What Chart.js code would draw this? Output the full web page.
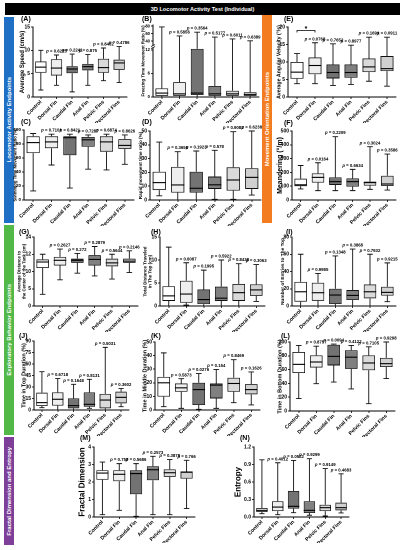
<!DOCTYPE html>
<html>
<head>
<meta charset="utf-8">
<script src="https://cdn.jsdelivr.net/npm/chart.js@4.4.1/dist/chart.umd.min.js"></script>
<style>
  body { margin: 0; background: #fff; }
  #page { position: relative; width: 407px; height: 550px; overflow: hidden; font-family: "Liberation Sans", Arial, sans-serif; }
  #page canvas { position: absolute; }
  .band { position: absolute; width: 10px; color: #fff; font-weight: bold; font-size: 6px; display: flex; align-items: center; justify-content: center; }
  .band span { writing-mode: vertical-rl; transform: rotate(180deg); white-space: nowrap; }
  .tag { position: absolute; font-weight: bold; font-size: 7px; color: #000; }
  #head { position: absolute; left: 5px; top: 3px; width: 395px; height: 12px; background: #000; color: #fff; font-weight: bold; font-size: 5.6px; line-height: 12px; text-align: center; }
</style>
</head>
<body>
<div id="page">
  <div id="head">3D Locomotor Activity Test (Individual)</div>
  <div class="band" style="left:4px;top:17px;height:206px;background:#1f6fc5"><span>Locomotor Activity Endpoints</span></div>
  <div class="band" style="left:262px;top:15px;height:208px;background:#f47c20"><span>Movement Orientation Endpoints</span></div>
  <div class="band" style="left:4px;top:225px;height:210px;background:#52b848"><span>Exploratory Behavior Endpoints</span></div>
  <div class="band" style="left:4px;top:437px;height:108px;background:#7e3f98"><span>Fractal Dimension and Entropy</span></div>
</div>
<script>
// groups on the x axis of every panel
const groups = ["Control", "Dorsal Fin", "Caudal Fin", "Anal Fin", "Pelvic Fins", "Pectoral Fins"];
const boxColors = ["#ffffff", "#eeeeee", "#737373", "#808080", "#dadada", "#d0d0d0"];

// each row: [min, q1, median, q3, max]
const speedA = [[1.5, 5.2, 6.4, 7.6, 10.0], [2.5, 4.6, 6.2, 8.1, 9.0], [1.1, 5.1, 6.0, 6.6, 9.2], [2.5, 5.7, 6.5, 7.1, 9.1], [3.5, 5.2, 6.3, 8.2, 10.5], [3.1, 5.8, 7.3, 8.0, 10.8]];
const speedP = [null, "0.6215", "0.2241", "0.875", "0.8432", "0.4786"];

const freezeB = [[0, 0.3, 1.0, 2.2, 78], [0, 0.3, 0.8, 3.8, 54], [0, 0.5, 1.0, 12.3, 64], [0, 0.3, 0.8, 2.8, 51], [0, 0.3, 0.8, 1.6, 46], [0, 0.3, 0.6, 1.2, 41]];
const freezeP = [null, "0.5856", "0.3564", "0.5177", "0.6011", "0.6389"];

const swimC = [[13, 67, 82, 91, 95], [50, 74, 83, 91, 94], [17, 64, 89, 91, 94], [44, 76, 86, 90, 93], [43, 69, 83, 91, 94], [51, 73, 78, 87, 93]];
const swimP = [null, "0.7101", "0.8421", "0.7287", "0.6874", "0.8626"];

const rapidD = [[3, 7.2, 12.6, 20.5, 42], [0, 5.3, 10.9, 24, 35], [0, 5.3, 8.5, 20.5, 35.5], [0.5, 8, 11, 17, 36], [0.5, 6.8, 14.5, 23.7, 49.5], [3.6, 8, 16.4, 23, 50]];
const rapidP = [null, "0.3656", "0.1923", "0.578", "0.9082", "0.6238"];

const angularE = [[3.8, 5.2, 7.1, 10.0, 12.4], [3.8, 6.5, 9.0, 11.3, 15.5], [3.3, 5.3, 7.0, 9.3, 15.2], [3.6, 5.5, 7.0, 9.3, 14.8], [4.5, 7.1, 8.6, 11.0, 17.1], [3.1, 7.4, 8.1, 11.7, 17.1]];
const angularP = [null, "0.0768", "0.7652", "0.8977", "0.1691", "0.0911"];

const meanderF = [[80, 100, 110, 155, 250], [68, 126, 164, 193, 270], [68, 109, 133, 164, 459], [68, 97, 133, 157, 222], [77, 104, 126, 133, 386], [72, 101, 116, 176, 333]];
const meanderP = [null, "0.0164", "0.2209", "0.6634", "0.3024", "0.3586"];

const centerG = [[3.4, 10.4, 11.1, 11.4, 12.0], [7.6, 10.7, 11.3, 11.7, 12.6], [9.5, 11.0, 11.3, 11.5, 12.1], [8.7, 10.7, 11.4, 11.9, 12.9], [7.8, 10.6, 11.0, 11.5, 12.0], [9.7, 11.0, 11.2, 11.5, 12.4]];
const centerP = [null, "0.2627", "0.272", "0.2879", "0.5644", "0.2146"];

const topDistH = [[0, 1.1, 2.2, 4.3, 12.8], [0.2, 0.7, 2.6, 5.5, 9.4], [0, 0.4, 1.4, 3.6, 7.8], [0, 1.1, 1.7, 4.2, 10.0], [0, 1.1, 2.9, 4.8, 9.2], [1.0, 2.2, 3.5, 4.7, 9.0]];
const topDistP = [null, "0.6087", "0.1995", "0.5922", "0.8438", "0.3063"];

const entriesI = [[0, 5, 16.5, 28, 60], [0, 6, 15.4, 27, 37.7], [0, 2.3, 12.7, 20, 58], [0, 7, 12.3, 18.5, 66], [0, 8.8, 16.5, 25, 60], [5, 12, 15.8, 22.3, 50]];
const entriesP = [null, "0.9985", "0.1348", "0.3868", "0.7932", "0.9215"];

const topJ = [[3, 5.2, 9.6, 22.6, 50], [0, 5.7, 14, 23, 41], [0, 2.2, 5.7, 15.2, 33.5], [2.2, 4.3, 7.4, 23, 40], [0, 2.2, 13, 21, 81.7], [4.3, 8.7, 16.5, 24, 28]];
const topP = [null, "0.6718", "0.1648", "0.8131", "0.5031", "0.3602"];

const middleK = [[2.4, 9.8, 20, 24.4, 42], [1.2, 13.4, 16.3, 19.5, 23], [0.5, 3.7, 15, 20, 26.8], [1.2, 8.5, 18.3, 19.5, 29.8], [5.4, 13.4, 19.5, 23.7, 37], [3.7, 11.5, 15, 19, 28]];
const middleP = [null, "0.5873", "0.0276", "0.154", "0.8469", "0.1626"];

const bottomL = [[18, 55, 67.6, 85.5, 95], [39.6, 63, 71, 80.7, 94], [42, 66, 79.2, 96, 97], [32, 61, 78, 88, 95], [10.6, 59, 69.6, 80.7, 93], [47, 63.8, 68.6, 77, 100]];
const bottomP = [null, "0.8757", "0.0094", "0.4122", "0.7105", "0.9298"];

const fractalM = [[0.13, 2.13, 2.51, 2.67, 3.14], [0.38, 2.04, 2.44, 2.67, 3.05], [0.04, 1.3, 2.48, 2.67, 3.05], [0.13, 2.1, 2.7, 2.9, 3.47], [0.13, 2.29, 2.53, 2.72, 3.28], [0.48, 2.19, 2.57, 2.57, 3.24]];
const fractalP = [null, "0.757", "0.5686", "0.2573", "0.3878", "0.766"];

const entropyN = [[0.057, 0.086, 0.114, 0.154, 0.98], [0.04, 0.1, 0.17, 0.27, 0.93], [0.074, 0.143, 0.183, 0.446, 0.97], [0.03, 0.069, 0.114, 0.27, 1.0], [0.017, 0.1, 0.16, 0.21, 0.83], [0.069, 0.114, 0.16, 0.246, 0.74]];
const entropyP = [null, "0.4012", "0.0522", "0.9299", "0.9149", "0.4683"];

// tick labels
const speedTicks = [0, 5, 10, 15];
const freezeTicks = [0, 3, 6, 9, 12, 30, 40, 50, 60, 70, 80];
const swimTicks = [0, 20, 40, 60, 80, 100];
const rapidTicks = [0, 10, 20, 30, 40, 50];
const angularTicks = [0, 5, 10, 15, 20];
const meanderTicks = [0, 100, 200, 300, 400, 500];
const centerTicks = [0, 5, 10, 12, 14];
const topDistTicks = [0, 5, 10, 15];
const entriesTicks = [0, 20, 40, 60, 80];
const topTicks = [0, 15, 30, 45, 60, 75, 90];
const middleTicks = [0, 10, 20, 30, 40, 50];
const bottomTicks = [0, 20, 40, 60, 80, 100];
const fractalTicks = [0, 1, 2, 3, 4];
const entropyTicks = [0, 0.3, 0.6, 0.9, 1.2];

const FONT = "'Liberation Sans', Arial, sans-serif";
const page = document.getElementById("page");

// y scale with piecewise (broken / segmented) mapping, like the Prism axes
class SegmentedScale extends Chart.LinearScale {
  static id = "segmented";
  toDecimal(v) {
    const pts = this.chart.canvas.breaks;
    let i = 0;
    while (i < pts.length - 2 && v > pts[i + 1][0]) i++;
    const [a, fa] = pts[i], [b, fb] = pts[i + 1];
    return fa + ((v - a) / (b - a)) * (fb - fa);
  }
  getPixelForValue(v) {
    if (v === null || isNaN(v)) return NaN;
    return this.getPixelForDecimal(this.toDecimal(v));
  }
  getValueForPixel(p) {
    const d = this.getDecimalForPixel(p);
    const pts = this.chart.canvas.breaks;
    let i = 0;
    while (i < pts.length - 2 && d > pts[i + 1][1]) i++;
    const [a, fa] = pts[i], [b, fb] = pts[i + 1];
    return a + ((d - fa) / (fb - fa)) * (b - a);
  }
}
Chart.register(SegmentedScale);

// whiskers, medians, p values, significance bracket, axis break
const boxWhisker = {
  id: "boxWhisker",
  afterDatasetsDraw(chart) {
    const ds = chart.data.datasets[0];
    const meta = chart.getDatasetMeta(0);
    const y = chart.scales.y;
    const ctx = chart.ctx;
    ctx.save();
    meta.data.forEach((bar, i) => {
      const s = ds.stats[i];
      const x = bar.x, hw = bar.width / 2, cap = hw * 0.45;
      const pMin = y.getPixelForValue(s[0]), pQ1 = y.getPixelForValue(s[1]);
      const pMed = y.getPixelForValue(s[2]), pQ3 = y.getPixelForValue(s[3]);
      const pMax = y.getPixelForValue(s[4]);
      ctx.strokeStyle = "#111";
      ctx.lineWidth = 0.9;
      ctx.beginPath();
      ctx.moveTo(x, pQ3); ctx.lineTo(x, pMax);
      ctx.moveTo(x, pQ1); ctx.lineTo(x, pMin);
      ctx.moveTo(x - cap, pMax); ctx.lineTo(x + cap, pMax);
      ctx.moveTo(x - cap, pMin); ctx.lineTo(x + cap, pMin);
      ctx.stroke();
      ctx.lineWidth = 1.1;
      ctx.strokeStyle = "#000";
      ctx.beginPath();
      ctx.moveTo(x - hw, pMed); ctx.lineTo(x + hw, pMed);
      ctx.stroke();
      const pv = ds.pvals[i];
      if (pv) {
        const size = 4.3;
        const rest = " = " + pv;
        ctx.font = `italic bold ${size}px ${FONT}`;
        const wp = ctx.measureText("p").width;
        ctx.font = `bold ${size}px ${FONT}`;
        const wr = ctx.measureText(rest).width;
        const sx = x - (wp + wr) / 2;
        ctx.fillStyle = "#000";
        ctx.textAlign = "left";
        ctx.textBaseline = "bottom";
        ctx.font = `italic bold ${size}px ${FONT}`;
        ctx.fillText("p", sx, pMax - 1.5);
        ctx.font = `bold ${size}px ${FONT}`;
        ctx.fillText(rest, sx + wp, pMax - 1.5);
      }
    });
    if (ds.sig) {
      const a = meta.data[ds.sig.from].x, b = meta.data[ds.sig.to].x;
      const py = y.getPixelForValue(ds.sig.value);
      ctx.strokeStyle = "#000";
      ctx.lineWidth = 0.8;
      ctx.beginPath();
      ctx.moveTo(a, py + 2); ctx.lineTo(a, py); ctx.lineTo(b, py); ctx.lineTo(b, py + 2);
      ctx.stroke();
      ctx.fillStyle = "#000";
      ctx.font = `bold 7px ${FONT}`;
      ctx.textAlign = "center";
      ctx.textBaseline = "bottom";
      ctx.fillText("*", (a + b) / 2, py + 2);
    }
    ctx.restore();
  },
  afterDraw(chart) {
    const ds = chart.data.datasets[0];
    if (!ds.gap) return;
    const y = chart.scales.y;
    const ctx = chart.ctx;
    const lo = y.getPixelForValue(ds.gap[0]), hi = y.getPixelForValue(ds.gap[1]);
    const ax = y.right;
    ctx.save();
    ctx.fillStyle = "#fff";
    ctx.fillRect(ax - 3, hi + 0.6, 5, lo - hi - 1.2);
    ctx.strokeStyle = "#000";
    ctx.lineWidth = 0.7;
    ctx.beginPath();
    ctx.moveTo(ax - 2, hi + 1.5); ctx.lineTo(ax + 2, hi - 0.5);
    ctx.moveTo(ax - 2, lo + 0.5); ctx.lineTo(ax + 2, lo - 1.5);
    ctx.stroke();
    ctx.restore();
  }
};

function boxPanel(rect, stats, pvals, o) {
  const [x0, y0, x1, y1] = rect;
  const yW = o.yW, padT = 9, padR = 3, xH = 26;
  const left = x0 - yW, top = y0 - padT;
  const w = Math.round(x1 - left + padR), h = Math.round(y1 - top + xH);
  const cv = document.createElement("canvas");
  cv.style.left = left + "px";
  cv.style.top = top + "px";
  cv.style.width = w + "px";
  cv.style.height = h + "px";
  cv.width = w;
  cv.height = h;
  if (o.breaks) cv.breaks = o.breaks;
  page.appendChild(cv);

  const ds = {
    data: stats.map(s => [s[1], s[3]]),
    backgroundColor: boxColors,
    borderColor: "#111",
    borderWidth: 0.9,
    borderSkipped: false,
    barPercentage: o.barPct || 0.72,
    categoryPercentage: 1,
    stats: stats,
    pvals: pvals
  };
  if (o.sig) ds.sig = o.sig;
  if (o.gap) ds.gap = o.gap;

  new Chart(cv, {
    type: "bar",
    data: { labels: groups, datasets: [ds] },
    options: {
      responsive: false,
      animation: false,
      devicePixelRatio: 2,
      layout: { padding: { top: padT, right: padR, left: 0, bottom: 0 } },
      plugins: { legend: { display: false }, tooltip: { enabled: false } },
      scales: {
        x: {
          offset: true,
          grid: { display: true, drawOnChartArea: false, offset: false, tickLength: 2, color: "#000", lineWidth: 0.8 },
          border: { display: true, color: "#000", width: 1 },
          ticks: { autoSkip: false, maxRotation: 45, minRotation: 45, padding: 0, color: "#000", font: { family: FONT, size: 5.2, weight: "bold" } },
          afterFit: s => { s.height = xH; s.paddingLeft = 0; s.paddingRight = 0; s.paddingTop = 0; s.paddingBottom = 0; }
        },
        y: {
          type: o.breaks ? "segmented" : "linear",
          min: o.min,
          max: o.max,
          grid: { display: true, drawOnChartArea: false, tickLength: 2, color: "#000", lineWidth: 0.8 },
          border: { display: true, color: "#000", width: 1 },
          ticks: {
            padding: 1,
            color: "#000",
            font: { family: FONT, size: o.tickSize || 5, weight: "bold" },
            callback: v => (o.fmt ? o.fmt(v) : String(v))
          },
          afterBuildTicks: s => { s.ticks = o.ticks.map(v => ({ value: v })); },
          title: {
            display: true,
            text: o.title,
            color: "#000",
            padding: { top: 0, bottom: 1 },
            font: { family: FONT, size: o.titleSize || 5, weight: "bold", lineHeight: 1.1 }
          },
          afterFit: s => { s.width = yW; s.paddingTop = 0; s.paddingBottom = 0; }
        }
      }
    },
    plugins: [boxWhisker]
  });
}

boxPanel([33, 27, 127, 97], speedA, speedP, { yW: 14, min: 0, max: 15, ticks: speedTicks, title: "Average Speed (cm/s)", titleSize: 6 });
boxPanel([153, 25, 259, 97], freezeB, freezeP, { yW: 12, min: 0, max: 83, ticks: freezeTicks, title: "Freezing Time Movement Ratio (%)", titleSize: 4.3, tickSize: 4.2,
  breaks: [[0, 0], [12.5, 0.68], [30, 0.722], [83, 1]], gap: [12.5, 30] });
boxPanel([288, 27, 396, 97], angularE, angularP, { yW: 12, min: 0, max: 20, ticks: angularTicks, title: "Average Angular Velocity (°/s)", titleSize: 5.2,
  sig: { from: 0, to: 1, value: 19 } });

boxPanel([24, 130, 134, 200], swimC, swimP, { yW: 11, min: 0, max: 100, ticks: swimTicks, title: "Swimming Time Movement Ratio (%)", titleSize: 4.2, tickSize: 4.5 });
boxPanel([150, 131, 261, 200], rapidD, rapidP, { yW: 12, min: 0, max: 50, ticks: rapidTicks, title: "Rapid movement time ratio (%)", titleSize: 4.6 });
boxPanel([292, 131, 396, 200], meanderF, meanderP, { yW: 16, min: 0, max: 500, ticks: meanderTicks, title: "Meandering (°/m)", titleSize: 7 });

boxPanel([34, 237, 138, 306], centerG, centerP, { yW: 17, min: 0, max: 14, ticks: centerTicks, title: ["Average Distance to", "the Center of the Tank (cm)"], titleSize: 4.3,
  breaks: [[0, 0], [10, 0.5], [14, 1]] });
boxPanel([160, 237, 265, 306], topDistH, topDistP, { yW: 17, min: 0, max: 15, ticks: topDistTicks, title: ["Total Distance Traveled", "in The Top (cm)"], titleSize: 4.5 });
boxPanel([292, 237, 396, 306], entriesI, entriesP, { yW: 12, min: 0, max: 80, ticks: entriesTicks, title: "Number of Entries to The Top", titleSize: 4.8 });

boxPanel([34, 341, 129, 410], topJ, topP, { yW: 13, min: 0, max: 90, ticks: topTicks, title: "Time in Top Duration (%)", titleSize: 5.5 });
boxPanel([155, 342, 260, 410], middleK, middleP, { yW: 13, min: 0, max: 50, ticks: middleTicks, title: "Time in Middle Duration (%)", titleSize: 5.5 });
boxPanel([290, 342, 395, 411], bottomL, bottomP, { yW: 13, min: 0, max: 100, ticks: bottomTicks, title: "Time in Bottom Duration (%)", titleSize: 5.5 });

boxPanel([94, 447, 195, 517], fractalM, fractalP, { yW: 16, min: 0, max: 4, ticks: fractalTicks, title: "Fractal Dimension", titleSize: 8 });
boxPanel([254, 447, 349, 517], entropyN, entropyP, { yW: 20, min: 0, max: 1.2, ticks: entropyTicks, title: "Entropy", titleSize: 8, fmt: v => v.toFixed(1) });

// panel letters
const tags = [["(A)", 21, 15], ["(B)", 142, 15], ["(E)", 284, 15], ["(C)", 21, 118], ["(D)", 142, 118], ["(F)", 284, 119],
  ["(G)", 19, 228], ["(H)", 151, 228], ["(I)", 286, 228], ["(J)", 19, 332], ["(K)", 151, 332], ["(L)", 281, 332],
  ["(M)", 80, 434], ["(N)", 240, 434]];
tags.forEach(([t, x, y]) => {
  const d = document.createElement("div");
  d.className = "tag";
  d.style.left = x + "px";
  d.style.top = y + "px";
  d.textContent = t;
  page.appendChild(d);
});
</script>
</body>
</html>
